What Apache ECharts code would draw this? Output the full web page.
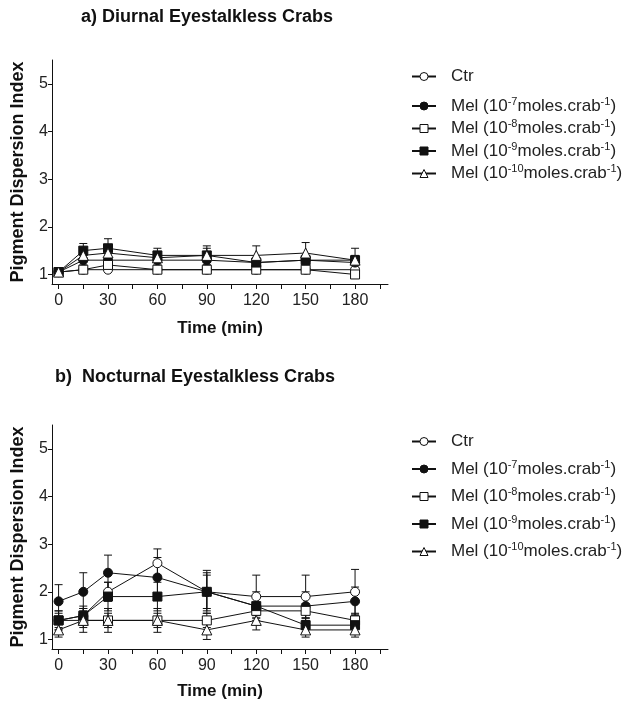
<!DOCTYPE html>
<html>
<head>
<meta charset="utf-8">
<script src="https://cdn.jsdelivr.net/npm/echarts@6/dist/echarts.min.js"></script>
<style>
  html, body { margin: 0; padding: 0; background: #fff; }
  #main { width: 639px; height: 706px; }
</style>
</head>
<body>
<div id="main"></div>
<script>
// time points (min)
var times = [0, 15, 30, 60, 90, 120, 150, 180];
var xTicks = [0, 15, 30, 45, 60, 75, 90, 105, 120, 135, 150, 165, 180, 195];
var xLabels = [0, 30, 60, 90, 120, 150, 180];
var yTicks = [1, 2, 3, 4, 5];

var names = ['Ctr', 'Mel 10-7', 'Mel 10-8', 'Mel 10-9', 'Mel 10-10'];
var exps = ['', '-7', '-8', '-9', '-10'];

// a) diurnal: means and SEM
var dCtr = [1.05, 1.1, 1.1, 1.1, 1.1, 1.1, 1.1, 1.1];
var dCtrErr = [0.05, 0.05, 0.05, 0.05, 0.05, 0.05, 0.05, 0.05];
var dMel7 = [1.05, 1.3, 1.3, 1.3, 1.3, 1.25, 1.3, 1.25];
var dMel7Err = [0.05, 0.1, 0.1, 0.1, 0.1, 0.1, 0.1, 0.1];
var dMel8 = [1.05, 1.1, 1.2, 1.1, 1.1, 1.1, 1.1, 1.0];
var dMel8Err = [0.05, 0.05, 0.05, 0.05, 0.05, 0.05, 0.05, 0.05];
var dMel9 = [1.05, 1.5, 1.55, 1.4, 1.4, 1.25, 1.3, 1.3];
var dMel9Err = [0.05, 0.15, 0.2, 0.15, 0.2, 0.1, 0.1, 0.1];
var dMel10 = [1.05, 1.4, 1.45, 1.35, 1.4, 1.4, 1.45, 1.3];
var dMel10Err = [0.05, 0.1, 0.15, 0.1, 0.15, 0.2, 0.22, 0.25];

// b) nocturnal
var nCtr = [1.4, 1.5, 2.0, 2.6, 2.0, 1.9, 1.9, 2.0];
var nCtrErr = [0.2, 0.2, 0.2, 0.3, 0.45, 0.45, 0.45, 0.47];
var nMel7 = [1.8, 2.0, 2.4, 2.3, 2.0, 1.7, 1.7, 1.8];
var nMel7Err = [0.35, 0.4, 0.37, 0.42, 0.35, 0.3, 0.3, 0.3];
var nMel8 = [1.4, 1.4, 1.4, 1.4, 1.4, 1.6, 1.6, 1.4];
var nMel8Err = [0.15, 0.15, 0.15, 0.15, 0.15, 0.15, 0.15, 0.15];
var nMel9 = [1.4, 1.5, 1.9, 1.9, 2.0, 1.7, 1.3, 1.3];
var nMel9Err = [0.2, 0.15, 0.3, 0.3, 0.4, 0.2, 0.15, 0.15];
var nMel10 = [1.2, 1.4, 1.4, 1.4, 1.2, 1.4, 1.2, 1.2];
var nMel10Err = [0.15, 0.25, 0.25, 0.25, 0.2, 0.2, 0.15, 0.15];

var symbols = ['circle', 'circle', 'rect', 'rect', 'triangle'];
var fills = ['#fff', '#111', '#fff', '#111', '#fff'];
var FONT = 'Liberation Sans, Arial, sans-serif';
var INK = '#111';

function errRender(params, api) {
  var x = api.value(0);
  var lo = api.coord([x, api.value(1)]);
  var hi = api.coord([x, api.value(2)]);
  var hw = 4;
  var st = { stroke: INK, lineWidth: 1 };
  return {
    type: 'group',
    children: [
      { type: 'line', shape: { x1: lo[0], y1: lo[1], x2: hi[0], y2: hi[1] }, style: st },
      { type: 'line', shape: { x1: hi[0] - hw, y1: hi[1], x2: hi[0] + hw, y2: hi[1] }, style: st },
      { type: 'line', shape: { x1: lo[0] - hw, y1: lo[1], x2: lo[0] + hw, y2: lo[1] }, style: st }
    ]
  };
}

var series = [];
function addGroup(gi, means, errs) {
  for (var k = 0; k < means.length; k++) {
    var m = means[k], e = errs[k];
    series.push({
      name: names[k] + ' err ' + gi,
      type: 'custom',
      xAxisIndex: gi, yAxisIndex: gi,
      renderItem: errRender,
      encode: { x: 0, y: [1, 2] },
      z: 1,
      silent: true,
      data: times.map(function (t, i) { return [t, m[i] - e[i], m[i] + e[i]]; })
    });
  }
  for (var k2 = 0; k2 < means.length; k2++) {
    var mm = means[k2];
    series.push({
      name: names[k2],
      type: 'line',
      xAxisIndex: gi, yAxisIndex: gi,
      z: 3,
      symbol: symbols[k2],
      symbolSize: symbols[k2] === 'triangle' ? 10 : 9,
      showAllSymbol: true,
      lineStyle: { color: INK, width: 1 },
      itemStyle: { color: fills[k2], borderColor: INK, borderWidth: 1 },
      emphasis: { disabled: true },
      data: times.map(function (t, i) { return [t, mm[i]]; })
    });
  }
}
addGroup(0, [dCtr, dMel7, dMel8, dMel9, dMel10], [dCtrErr, dMel7Err, dMel8Err, dMel9Err, dMel10Err]);
addGroup(1, [nCtr, nMel7, nMel8, nMel9, nMel10], [nCtrErr, nMel7Err, nMel8Err, nMel9Err, nMel10Err]);

function legendFmt(name) {
  var k = names.indexOf(name);
  if (k === 0) return '{p|}{m|Ctr}';
  return '{p|}{m|Mel (10}{s|' + exps[k] + '}{m|moles.crab}{s|-1}{m|)}';
}
var legendRich = {
  p: { width: 10, lineHeight: 20 },
  m: { fontSize: 17, fontFamily: FONT, color: '#222', lineHeight: 20 },
  s: { fontSize: 11, fontFamily: FONT, color: '#222', lineHeight: 11, verticalAlign: 'top' }
};
function makeLegend(top, data, gap) {
  return {
    orient: 'vertical', left: 411, top: top, padding: 0,
    itemWidth: 24, itemHeight: 10, itemGap: gap,
    data: data, selectedMode: false,
    formatter: legendFmt,
    itemStyle: { borderWidth: 1 },
    textStyle: { rich: legendRich }
  };
}

function xAx(gi, gap) {
  return {
    type: 'value', gridIndex: gi, min: -4, max: 200,
    name: 'Time (min)', nameLocation: 'middle', nameGap: gap,
    nameTextStyle: { fontSize: 17, fontWeight: 'bold', color: INK, fontFamily: FONT },
    axisLine: { onZero: false, lineStyle: { color: INK, width: 1 } },
    axisTick: { customValues: xTicks, length: 5, lineStyle: { color: INK } },
    axisLabel: { customValues: xLabels, margin: 9, fontSize: 16, color: '#222', fontFamily: FONT },
    splitLine: { show: false }
  };
}
function yAx(gi) {
  return {
    type: 'value', gridIndex: gi, min: 0.8, max: 5.5,
    name: 'Pigment Dispersion Index', nameLocation: 'middle', nameGap: 25,
    nameTextStyle: { fontSize: 18, fontWeight: 'bold', color: INK, fontFamily: FONT },
    axisLine: { show: true, onZero: false, lineStyle: { color: INK, width: 1 } },
    axisTick: { show: true, customValues: yTicks, length: 4, lineStyle: { color: INK } },
    axisLabel: { customValues: yTicks, margin: 4, fontSize: 16, color: '#222', fontFamily: FONT },
    splitLine: { show: false }
  };
}

var chart = echarts.init(document.getElementById('main'), null, { renderer: 'canvas' });
chart.setOption({
  backgroundColor: '#fff',
  animation: false,
  title: [
    { text: 'a) Diurnal Eyestalkless Crabs', left: 81, top: 8, padding: 0,
      textStyle: { fontSize: 18, fontWeight: 'bold', color: INK, fontFamily: FONT } },
    { text: 'b)  Nocturnal Eyestalkless Crabs', left: 55, top: 368, padding: 0,
      textStyle: { fontSize: 18, fontWeight: 'bold', color: INK, fontFamily: FONT } }
  ],
  legend: [
    makeLegend(68, ['Ctr'], 0),
    makeLegend(96, names.slice(1), 4),
    makeLegend(433, ['Ctr'], 0),
    makeLegend(459, names.slice(1), 9)
  ],
  grid: [
    { left: 52, top: 60, width: 336, height: 224 },
    { left: 52, top: 425, width: 336, height: 224 }
  ],
  xAxis: [xAx(0, 36), xAx(1, 34)],
  yAxis: [yAx(0), yAx(1)],
  series: series
});
</script>
</body>
</html>
